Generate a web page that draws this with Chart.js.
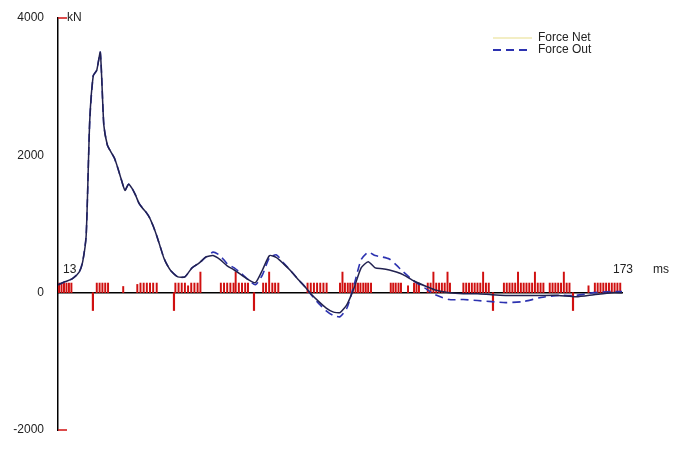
<!DOCTYPE html>
<html>
<head>
<meta charset="utf-8">
<script src="https://cdn.jsdelivr.net/npm/chart.js@4"></script>
<style>
  html, body { margin: 0; padding: 0; background: #fff; }
  #wrap { width: 674px; height: 454px; }
</style>
</head>
<body>
<div id="wrap"><canvas id="forceChart"></canvas></div>
<script>
// time in ms
const times = [13, 15, 17, 19, 20, 21, 22, 23, 24, 25, 26, 27, 28, 29, 30, 31, 32, 33, 34, 35,
  36, 37, 38, 39, 40, 41, 42, 43, 44, 45, 47, 49, 51, 53, 55, 57, 59, 61, 63, 65,
  67, 69, 71, 73, 75, 77, 79, 81, 83, 85, 87, 89, 91, 93, 95, 97, 99, 101, 103, 105,
  107, 109, 111, 114, 117, 120, 124, 128, 132, 136, 140, 145, 150, 155, 160, 165, 170, 173];
// kN
const forceNet = [115, 160, 200, 300, 450, 840, 2500, 3160, 3240, 3500, 2440, 2150, 2050, 1960, 1810, 1640, 1490, 1580, 1520, 1420,
  1300, 1230, 1170, 1090, 970, 830, 670, 510, 400, 320, 230, 230, 360, 430, 520, 540, 480, 390, 330, 260,
  190, 145, 330, 540, 510, 420, 320, 200, 90, -30, -130, -220, -280, -290, -170, 70, 360, 450, 360, 350,
  330, 300, 260, 170, 100, 40, 0, -15, -15, -30, -40, -40, -40, -40, -60, -30, 0, 0];
const forceOut = [115, 160, 200, 300, 450, 840, 2500, 3160, 3240, 3500, 2440, 2150, 2050, 1960, 1810, 1640, 1490, 1580, 1520, 1420,
  1300, 1230, 1170, 1090, 970, 830, 670, 510, 400, 320, 230, 230, 360, 430, 520, 590, 540, 420, 360, 280,
  190, 115, 260, 510, 550, 430, 320, 200, 90, -40, -160, -260, -330, -350, -220, 115, 480, 590, 540, 520,
  490, 400, 300, 170, 70, -30, -100, -100, -115, -130, -145, -130, -70, -40, -40, 0, 15, 15];

// red event marks along the time axis
const markTimes = [13.3, 14, 14.7, 15.4, 16.1, 16.8,
  24, 24.8, 25.6, 26.4, 27.2,
  31.5,
  35.5, 36.4, 37.3, 38.2, 39.1, 40, 41,
  46.3, 47.2, 48.1, 49, 49.9, 50.8, 51.7, 52.6, 53.4,
  59.2, 60.1, 61, 61.9, 62.8, 63.4, 64.3, 65.2, 66.1, 66.9,
  71.2, 72, 72.9, 73.8, 74.6, 75.5,
  83.8, 84.7, 85.6, 86.5, 87.4, 88.3, 89.2,
  93, 93.7, 94.4, 95.2, 95.9, 96.6, 97.4, 98.1, 98.8, 99.6, 100.3, 101, 101.8,
  107.4, 108.1, 108.8, 109.6, 110.3,
  112.3,
  114, 114.7, 115.4,
  117.9, 118.7, 119.5, 120.3, 121.1, 121.9, 122.7, 123.5, 124.2,
  128, 128.8, 129.6, 130.4, 131.2, 132, 132.8, 133.6, 134.4, 135.2,
  139.5, 140.3, 141.1, 141.9, 142.7, 143.5, 144.3, 145.1, 145.9, 146.7, 147.5, 148.3, 149.1, 149.9, 150.7,
  152.5, 153.3, 154.1, 154.9, 155.7, 156.5, 157.3, 158.1,
  163.5,
  165.3, 166.1, 166.9, 167.7, 168.5, 169.3, 170.1, 170.9, 171.7, 172.5];
const markHeights = [140, 140, 140, 140, 140, 140,
  140, 140, 140, 140, 140,
  90,
  120, 140, 140, 140, 140, 140, 140,
  140, 140, 140, 140, 100, 140, 140, 140, 300,
  140, 140, 140, 140, 140, 300, 140, 140, 140, 140,
  140, 140, 300, 140, 140, 140,
  140, 140, 140, 140, 140, 140, 140,
  140, 300, 140, 140, 140, 140, 140, 140, 140, 140, 140, 140, 140,
  140, 140, 140, 140, 140,
  100,
  140, 140, 140,
  140, 140, 300, 140, 140, 140, 140, 300, 140,
  140, 140, 140, 140, 140, 140, 140, 300, 140, 140,
  140, 140, 140, 140, 140, 300, 140, 140, 140, 140, 140, 300, 140, 140, 140,
  140, 140, 140, 140, 140, 300, 140, 140,
  100,
  140, 140, 140, 140, 140, 140, 140, 140, 140, 140];
const majorTimes = [22.9, 45.9, 68.6, 136.4, 159.1];
const majorDepth = [-260, -260, -260, -260, -260];

const yMin = -2000, yMax = 4000, yStep = 2000;
const xMin = times[0], xMax = times[times.length - 1];

const font = '"Liberation Sans", Arial, sans-serif';

const axisText = {
  id: 'axisText',
  afterDraw(chart) {
    const { ctx, chartArea, scales: { x, y } } = chart;
    const y0 = y.getPixelForValue(0);
    ctx.save();
    ctx.strokeStyle = '#d01010';
    ctx.lineWidth = 1.5;
    [yMax, yMin].forEach(v => {
      const py = y.getPixelForValue(v);
      ctx.beginPath(); ctx.moveTo(x.left, py); ctx.lineTo(x.left + 9, py); ctx.stroke();
    });
    ctx.fillStyle = '#222';
    ctx.font = '12px ' + font;
    ctx.textBaseline = 'middle';
    ctx.fillText('kN', chartArea.left + 9, chartArea.top);
    ctx.fillText(String(xMin), x.getPixelForValue(xMin) + 5, y0 - 23);
    ctx.fillText(String(xMax), x.getPixelForValue(xMax) - 9, y0 - 23);
    ctx.fillText('ms', chartArea.right + 31, y0 - 23);

    // legend
    const items = chart.data.datasets.filter(d => d.type === 'line');
    const swatch = ['#f3eec4', items[1].borderColor];
    items.forEach((d, i) => {
      const ly = 38 + i * 12;
      ctx.strokeStyle = swatch[i];
      ctx.lineWidth = 2;
      ctx.setLineDash(d.borderDash || []);
      ctx.beginPath(); ctx.moveTo(493, ly); ctx.lineTo(532, ly); ctx.stroke();
      ctx.setLineDash([]);
      ctx.fillStyle = '#222';
      ctx.font = '12px ' + font;
      ctx.fillText(d.label, 538, ly);
    });
    ctx.restore();
  }
};

const ctx = document.getElementById('forceChart').getContext('2d');
new Chart(ctx, {
  data: {
    datasets: [
      {
        type: 'line',
        label: 'Force Net',
        data: times.map((t, i) => ({ x: t, y: forceNet[i] })),
        borderColor: '#222250',
        borderWidth: 1.5,
        pointRadius: 0,
        tension: 0.2,
        order: 0
      },
      {
        type: 'line',
        label: 'Force Out',
        data: times.map((t, i) => ({ x: t, y: forceOut[i] })),
        borderColor: '#2c32b0',
        borderWidth: 1.6,
        borderDash: [8, 5],
        pointRadius: 0,
        tension: 0.2,
        order: 0
      },
      {
        type: 'bar',
        label: 'marks',
        data: markTimes.map((t, i) => ({ x: t, y: markHeights[i] })),
        backgroundColor: '#d01010',
        barThickness: 1.3,
        grouped: false,
        order: 1
      },
      {
        type: 'bar',
        label: 'major',
        data: majorTimes.map((t, i) => ({ x: t, y: majorDepth[i] })),
        backgroundColor: '#d01010',
        barThickness: 1.5,
        grouped: false,
        order: 1
      }
    ]
  },
  options: {
    responsive: true,
    maintainAspectRatio: false,
    animation: false,
    devicePixelRatio: 1,
    layout: { padding: { top: 18, right: 52, bottom: 24, left: 0 } },
    plugins: { legend: { display: false }, tooltip: { enabled: false } },
    scales: {
      x: {
        type: 'linear',
        min: xMin,
        max: xMax,
        offset: false,
        position: { y: 0 },
        grid: { display: false },
        border: { color: '#000', width: 1.5 },
        ticks: { display: false }
      },
      y: {
        type: 'linear',
        position: 'left',
        min: yMin,
        max: yMax,
        grid: { display: false },
        border: { color: '#000', width: 1.5 },
        ticks: {
          stepSize: yStep,
          color: '#222',
          padding: 6,
          font: { size: 12, family: font },
          callback: v => String(v)
        },
        afterFit: s => { s.width = 58; }
      }
    }
  },
  plugins: [axisText]
});
</script>
</body>
</html>
